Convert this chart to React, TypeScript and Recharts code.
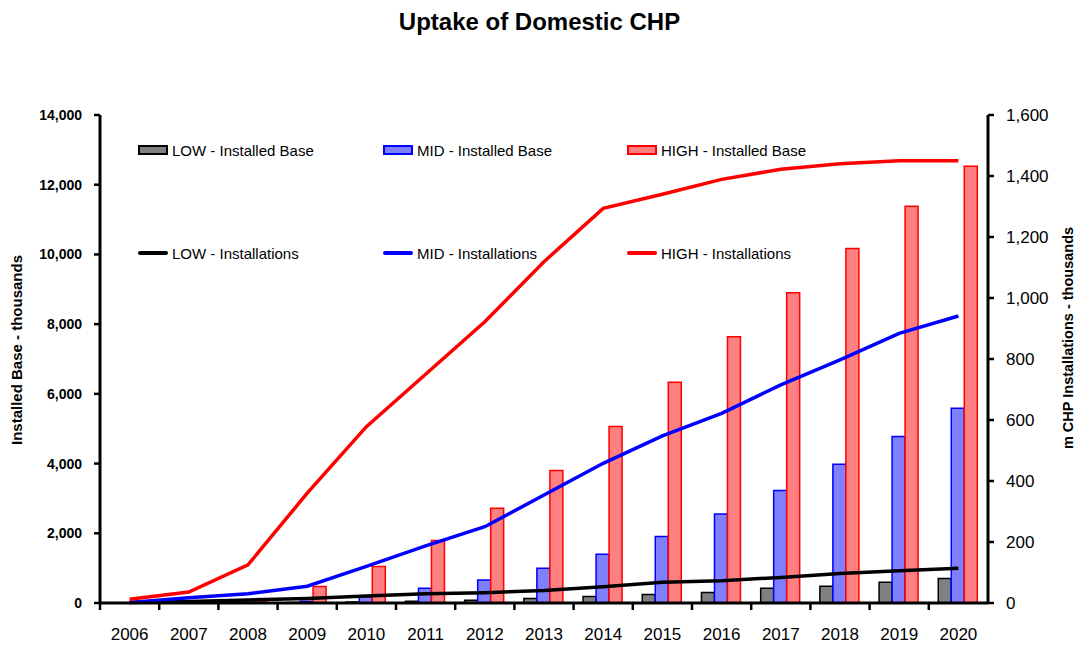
import {
  Bar,
  ComposedChart,
  Line,
  XAxis,
  YAxis,
} from "recharts";

// 카테고리 (연도)
const years = [
  "2006", "2007", "2008", "2009", "2010", "2011", "2012", "2013",
  "2014", "2015", "2016", "2017", "2018", "2019", "2020",
];

// Installed Base - thousands (왼쪽 축)
const lowBase = [0, 3, 8, 15, 30, 50, 80, 128, 185, 245, 300, 420, 480, 595, 700];
const midBase = [0, 5, 20, 50, 180, 420, 660, 1000, 1400, 1910, 2550, 3230, 3980, 4780, 5590];
const highBase = [0, 10, 60, 470, 1050, 1790, 2720, 3800, 5060, 6330, 7640, 8900, 10170, 11380, 12530];

// Installations - thousands (오른쪽 축)
const lowInst = [2, 5, 10, 15, 23, 30, 34, 41, 53, 68, 73, 84, 97, 106, 114];
const midInst = [2, 17, 30, 55, 120, 187, 250, 354, 458, 548, 622, 715, 797, 884, 941];
const highInst = [12, 36, 125, 360, 578, 750, 922, 1119, 1294, 1340, 1389, 1422, 1440, 1450, 1450];

// 축 눈금
const leftTicks = [0, 2000, 4000, 6000, 8000, 10000, 12000, 14000];
const rightTicks = [0, 200, 400, 600, 800, 1000, 1200, 1400, 1600];

const data = years.map((year, i) => ({
  year,
  lowBase: lowBase[i],
  midBase: midBase[i],
  highBase: highBase[i],
  lowInst: lowInst[i],
  midInst: midInst[i],
  highInst: highInst[i],
}));

const FONT = "'Liberation Sans', Arial, Helvetica, sans-serif";
const W = 1079;
const H = 646;
const PLOT_LEFT = 100;
const PLOT_RIGHT = 988;
const PLOT_TOP = 115;
const PLOT_BOTTOM = 603;
const BAND = (PLOT_RIGHT - PLOT_LEFT) / years.length;

const fmt = (v: number) => v.toLocaleString("en-US");

// X축 눈금: 라벨은 가운데, 눈금선은 카테고리 경계에
const XTick = (props: any) => {
  const { x, payload } = props;
  const bx = x - BAND / 2;
  return (
    <g>
      <line x1={bx} x2={bx} y1={PLOT_BOTTOM} y2={PLOT_BOTTOM + 7} stroke="#000" strokeWidth={2.5} />
      <text x={x} y={PLOT_BOTTOM + 37} textAnchor="middle" fontSize={17} fill="#000" fontFamily={FONT}>
        {payload.value}
      </text>
    </g>
  );
};

const legendBars = [
  { name: "LOW - Installed Base", fill: "#808080", stroke: "#000000" },
  { name: "MID - Installed Base", fill: "#8080FF", stroke: "#0000FF" },
  { name: "HIGH - Installed Base", fill: "#FF8080", stroke: "#FF0000" },
];
const legendLines = [
  { name: "LOW - Installations", stroke: "#000000" },
  { name: "MID - Installations", stroke: "#0000FF" },
  { name: "HIGH - Installations", stroke: "#FF0000" },
];
const legendCols = [138, 383, 627];

export default function App() {
  return (
    <div style={{ position: "absolute", left: 0, top: 0, width: W, height: H, background: "#fff", fontFamily: FONT }}>
      {/* 제목 */}
      <div
        style={{
          position: "absolute",
          left: 0,
          top: 0,
          width: W,
          height: 44,
          lineHeight: "44px",
          textAlign: "center",
          fontSize: 24,
          fontWeight: "bold",
          color: "#000",
        }}
      >
        Uptake of Domestic CHP
      </div>

      <ComposedChart
        width={W}
        height={H}
        data={data}
        margin={{ top: PLOT_TOP, right: 0, bottom: 0, left: 0 }}
        barCategoryGap="16%"
        barGap={0}
      >
        <XAxis
          dataKey="year"
          height={H - PLOT_BOTTOM}
          interval={0}
          axisLine={{ stroke: "#000", strokeWidth: 3 }}
          tickLine={false}
          tick={<XTick />}
        />
        <YAxis
          yAxisId="left"
          width={PLOT_LEFT}
          domain={[0, 14000]}
          ticks={leftTicks}
          tickFormatter={fmt}
          axisLine={{ stroke: "#000", strokeWidth: 3 }}
          tickLine={{ stroke: "#000", strokeWidth: 2.5 }}
          tickSize={6}
          tickMargin={12}
          tick={{ fontSize: 14, fontWeight: "bold", fill: "#000", fontFamily: FONT }}
        />
        <YAxis
          yAxisId="right"
          orientation="right"
          width={W - PLOT_RIGHT}
          domain={[0, 1600]}
          ticks={rightTicks}
          tickFormatter={fmt}
          axisLine={{ stroke: "#000", strokeWidth: 3 }}
          tickLine={{ stroke: "#000", strokeWidth: 2.5 }}
          tickSize={6}
          tickMargin={12}
          tick={{ fontSize: 17, fill: "#000", fontFamily: FONT }}
        />

        {/* 설치 기반 막대 */}
        <Bar yAxisId="left" dataKey="lowBase" fill="#808080" stroke="#000000" strokeWidth={1.5} isAnimationActive={false} />
        <Bar yAxisId="left" dataKey="midBase" fill="#8080FF" stroke="#0000FF" strokeWidth={1.5} isAnimationActive={false} />
        <Bar yAxisId="left" dataKey="highBase" fill="#FF8080" stroke="#FF0000" strokeWidth={1.5} isAnimationActive={false} />

        {/* 연간 설치 선 */}
        <Line yAxisId="right" type="linear" dataKey="lowInst" stroke="#000000" strokeWidth={3.5} dot={false} isAnimationActive={false} />
        <Line yAxisId="right" type="linear" dataKey="midInst" stroke="#0000FF" strokeWidth={3.5} dot={false} isAnimationActive={false} />
        <Line yAxisId="right" type="linear" dataKey="highInst" stroke="#FF0000" strokeWidth={3.5} dot={false} isAnimationActive={false} />
      </ComposedChart>

      {/* 범례 */}
      {legendBars.map((item, i) => (
        <div
          key={item.name}
          style={{ position: "absolute", left: legendCols[i], top: 140, height: 20, display: "flex", alignItems: "center" }}
        >
          <div style={{ width: 26, height: 6, background: item.fill, border: `2px solid ${item.stroke}` }} />
          <span style={{ marginLeft: 4, fontSize: 15, color: "#000", whiteSpace: "nowrap" }}>{item.name}</span>
        </div>
      ))}
      {legendLines.map((item, i) => (
        <div
          key={item.name}
          style={{ position: "absolute", left: legendCols[i], top: 243, height: 20, display: "flex", alignItems: "center" }}
        >
          <div style={{ width: 30, height: 3.5, background: item.stroke, borderRadius: 2 }} />
          <span style={{ marginLeft: 4, fontSize: 15, color: "#000", whiteSpace: "nowrap" }}>{item.name}</span>
        </div>
      ))}

      {/* 축 제목 */}
      <svg width={W} height={H} style={{ position: "absolute", left: 0, top: 0, pointerEvents: "none" }}>
        <text
          transform="translate(16, 350) rotate(-90)"
          textAnchor="middle"
          dominantBaseline="central"
          fontSize={15}
          fontWeight="bold"
          fontFamily={FONT}
          fill="#000"
        >
          Installed Base - thousands
        </text>
        <text
          transform="translate(1068, 338) rotate(-90)"
          textAnchor="middle"
          dominantBaseline="central"
          fontSize={14.5}
          fontWeight="bold"
          fontFamily={FONT}
          fill="#000"
        >
          m CHP Installations - thousands
        </text>
      </svg>
    </div>
  );
}
